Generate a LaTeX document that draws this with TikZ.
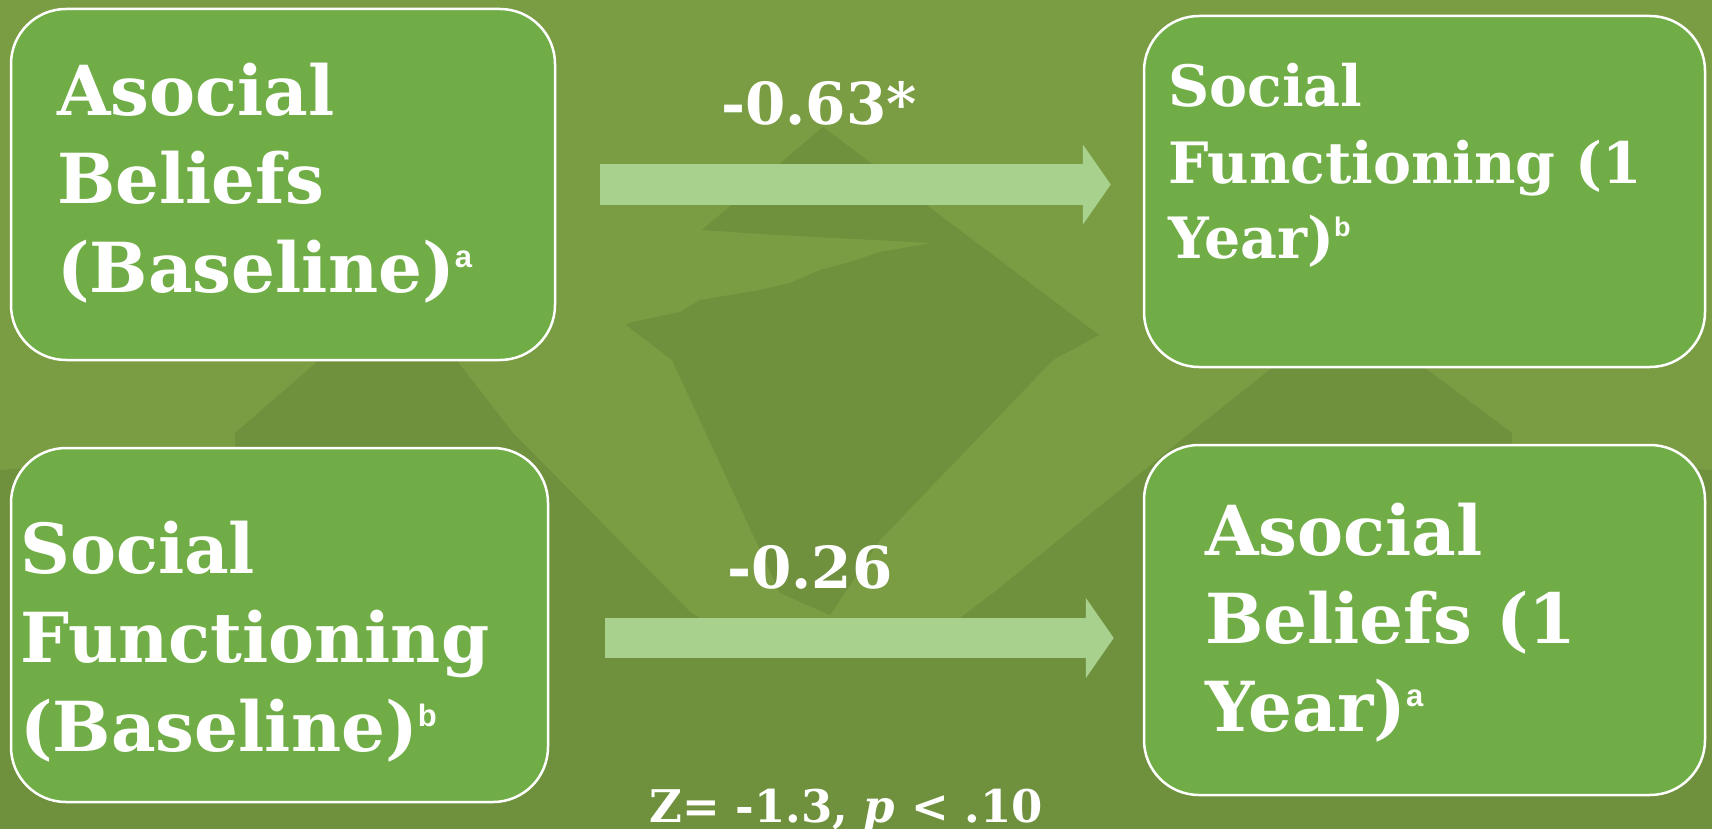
\documentclass[tikz,border=0pt]{standalone}
\usepackage{fontspec}
\newfontfamily\gfont{DejaVu Serif}
\newfontfamily\supfont{Liberation Sans}
\usetikzlibrary{arrows.meta,calc}
\definecolor{bgL}{RGB}{122,156,66}
\definecolor{bgD}{RGB}{111,145,62}
\definecolor{boxc}{RGB}{112,173,71}
\definecolor{arrowc}{RGB}{169,209,142}
\newcommand{\mysup}[3]{\raisebox{#2}{\supfont\bfseries\fontsize{#1}{#1}\selectfont #3}}
\begin{document}
\begin{tikzpicture}[x=1pt,y=-1pt,
  box/.style={draw=white, line width=2.5pt, fill=boxc, rounded corners=55pt, inner sep=0pt},
  bigtxt/.style={anchor=base west, inner sep=0pt, text=white, font=\gfont\bfseries\fontsize{69}{82}\selectfont},
  smalltxt/.style={anchor=base west, inner sep=0pt, text=white, font=\gfont\bfseries\fontsize{57}{68}\selectfont},
  lab/.style={anchor=base, inner sep=0pt, text=white, font=\gfont\bfseries\fontsize{58}{70}\selectfont},
  bigarrow/.style={draw=arrowc, line width=40pt, -{Triangle[length=28pt,width=79pt]}}]
\useasboundingbox (0,0) rectangle (1712,829);
% background
\fill[bgL] (0,0) rectangle (1712,829);
\fill[bgD] (823,127) -- (702,230) -- (760,234) -- (932,243) -- (880,252) -- (850,262) -- (820,270) -- (790,283) -- (760,290) -- (700,300) -- (680,312) -- (628,323) -- (626,325) -- (672,360) -- (780,593) -- (830,615) -- (880,540) -- (1053,360) -- (1099,335) -- cycle;
\fill[bgD] (0,829) -- (0,470) -- (235,455) -- (235,433) -- (317,362) -- (340,330) -- (440,330) -- (458,362) -- (513,433) -- (690,612) -- (700,618) -- (960,618) -- (997,590) -- (1190,433) -- (1272,368) -- (1290,340) -- (1410,340) -- (1425,368) -- (1512,433) -- (1512,455) -- (1712,470) -- (1712,829) -- cycle;
% boxes
\node[box, minimum width=544pt, minimum height=351pt] (b1) at (283,184.5) {};
\node[box, minimum width=561pt, minimum height=351pt] (b2) at (1424.5,191.5) {};
\node[box, minimum width=537pt, minimum height=354pt] (b3) at (279.5,625) {};
\node[box, minimum width=561pt, minimum height=350pt] (b4) at (1424.5,620) {};
% box texts
\node[bigtxt] (b1l1) at (57,116) {Asocial};
\node[bigtxt] (b1l2) at (57,204) {Beliefs};
\node[bigtxt] (b1l3) at (57,292) {(Baseline)\mysup{31pt}{25pt}{a}};
\node[smalltxt] (b2l1) at (1168,107) {Social};
\node[smalltxt] (b2l2) at (1168,183) {Functioning (1};
\node[smalltxt] (b2l3) at (1168,258) {Year)\mysup{27pt}{21pt}{b}};
\node[bigtxt] (b3l1) at (20,573) {Social};
\node[bigtxt] (b3l2) at (20,662) {Functioning};
\node[bigtxt] (b3l3) at (20,751) {(Baseline)\mysup{31pt}{25pt}{b}};
\node[bigtxt] (b4l1) at (1205,555) {Asocial};
\node[bigtxt] (b4l2) at (1205,643) {Beliefs (1};
\node[bigtxt] (b4l3) at (1205,731) {Year)\mysup{31pt}{25pt}{a}};
% arrows
\coordinate (a1s) at ($(b1.east)+(44,0)$);
\coordinate (a1e) at ($(b1.east -| b2.west)+(-32,0)$);
\coordinate (a2s) at ($(b3.east)+(56,13)$);
\coordinate (a2e) at ($(b3.east -| b4.west)+(-29,13)$);
\draw[bigarrow] (a1s) -- (a1e);
\draw[bigarrow] (a2s) -- (a2e);
% labels
\node[lab] (l1) at (819,125) {-0.63*};
\node[lab] (l2) at (810,588) {-0.26};
\node[lab, font=\gfont\bfseries\fontsize{45}{54}\selectfont] (l3) at (846,822) {Z= -1.3, \textit{p} < .10};
\end{tikzpicture}
\end{document}
